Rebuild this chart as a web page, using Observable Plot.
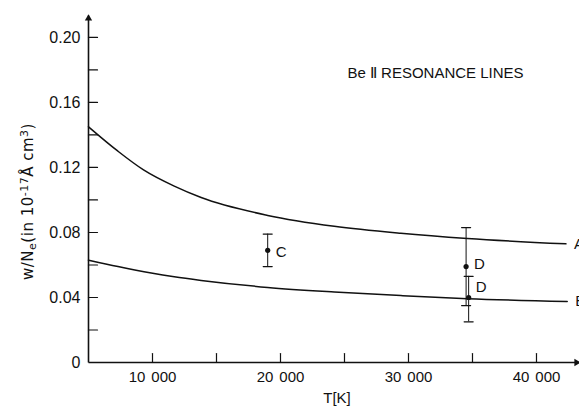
<!DOCTYPE html>
<html><head><meta charset="utf-8">
<script src="https://cdn.jsdelivr.net/npm/d3@7"></script>
<script src="https://cdn.jsdelivr.net/npm/@observablehq/plot@0.6"></script>
<style>body{margin:0;background:#fff} svg{display:block}</style>
</head><body><div id="chart"></div>
<script>
// ---- data ----
const curveTA = [5000, 7300, 9300, 11700, 13800, 19000, 24200, 29400, 34600, 42300];
const seriesA = [0.145, 0.130, 0.1185, 0.1085, 0.1015, 0.0905, 0.0838, 0.0795, 0.0763, 0.073];
const curveTB = [5000, 7300, 9900, 11700, 13800, 19000, 24200, 29400, 34600, 42400];
const seriesB = [0.063, 0.0590, 0.0550, 0.0527, 0.0505, 0.0462, 0.0434, 0.0412, 0.0393, 0.0375];
const seriesNames = ["A", "B"];
const pointNames = ["C", "D", "D"];
const pointT = [19000, 34500, 34700];
const pointW = [0.069, 0.059, 0.040];
const pointLo = [0.059, 0.035, 0.025];
const pointHi = [0.079, 0.083, 0.053];
const yMajorTicks = [0, 0.04, 0.08, 0.12, 0.16, 0.20];
const yMinorTicks = [0.02, 0.04, 0.06, 0.08, 0.10, 0.12, 0.14, 0.16, 0.18, 0.20];
const xTicks = [10000, 15000, 20000, 25000, 30000, 35000, 40000];
const xTickLabels = [10000, 20000, 30000, 40000];
const xDomain = [5000, 43360];
const yDomain = [0, 0.2135];
const titleText = "Be \u2161 RESONANCE LINES";
const xLabel = "T[K]";
const yLabelParts = [["w/N",""],["e","sub"],["(in 10",""],["-17","sup"],["\u00C5 cm",""],["3","sup"],[")",""]];
const yLabelPlain = yLabelParts.map(p => p[0]).join("");

// ---- tables built from the arrays ----
const lineA = curveTA.map((t, i) => ({T: t, w: seriesA[i]}));
const lineB = curveTB.map((t, i) => ({T: t, w: seriesB[i]}));
const ends = [lineA[lineA.length - 1], lineB[lineB.length - 1]].map((d, i) => ({...d, name: seriesNames[i]}));
const pts = pointNames.map((n, i) => ({name: n, T: pointT[i], w: pointW[i], lo: pointLo[i], hi: pointHi[i]}));
const caps = pts.flatMap(d => [{T: d.T, w: d.lo}, {T: d.T, w: d.hi}]);

const lineShape = {draw(ctx, l) { ctx.moveTo(0, 0); ctx.lineTo(0, -l); }};
const fmtX = d => d3.format(",")(d).replace(",", "\u2009\u2009");
const fmtY = d => d === 0 ? "0" : d3.format(".2f")(d);
const ink = "#111";

const chart = Plot.plot({
  width: 579, height: 407,
  marginLeft: 88, marginRight: 0, marginTop: 15, marginBottom: 45,
  style: {fontFamily: "'Liberation Sans', Arial, sans-serif", fontSize: "15px", background: "#fff", color: ink},
  x: {domain: xDomain},
  y: {domain: yDomain},
  marks: [
    // axis lines
    Plot.link([0], {x1: xDomain[0], x2: xDomain[0], y1: yDomain[0], y2: yDomain[1], stroke: ink, strokeWidth: 1.6}),
    Plot.link([0], {x1: xDomain[0], x2: xDomain[1], y1: yDomain[0], y2: yDomain[0], stroke: ink, strokeWidth: 1.6}),
    Plot.dot([0], {x: xDomain[0], y: yDomain[1], symbol: "triangle2", r: 3.5, fill: ink, dy: 3}),
    Plot.dot([0], {x: xDomain[1], y: yDomain[0], symbol: "triangle2", r: 3.5, fill: ink, rotate: 90, dx: -3}),
    // ticks pointing inward
    Plot.vector(yMinorTicks, {y: d => d, frameAnchor: "left", rotate: 90, length: 9, anchor: "start", shape: lineShape, stroke: ink, strokeWidth: 1.2}),
    Plot.vector(xTicks, {x: d => d, frameAnchor: "bottom", rotate: 0, length: 9, anchor: "start", shape: lineShape, stroke: ink, strokeWidth: 1.2}),
    Plot.axisY({ticks: yMajorTicks, tickSize: 0, tickPadding: 8, tickFormat: fmtY, fontSize: 16, label: null}),
    Plot.axisX({ticks: xTickLabels, tickSize: 0, tickPadding: 9, tickFormat: fmtX, fontSize: 15, label: null}),
    // curves
    Plot.line(lineA, {x: "T", y: "w", curve: "monotone-x", stroke: ink, strokeWidth: 1.5}),
    Plot.line(lineB, {x: "T", y: "w", curve: "monotone-x", stroke: ink, strokeWidth: 1.5}),
    Plot.text(ends, {x: "T", y: "w", text: "name", textAnchor: "start", dx: 8, fontSize: 15, fill: ink}),
    // error bars
    Plot.ruleX(pts, {x: "T", y1: "lo", y2: "hi", stroke: ink, strokeWidth: 1}),
    Plot.vector(caps, {x: "T", y: "w", rotate: 90, length: 9, anchor: "middle", shape: lineShape, stroke: ink, strokeWidth: 1.2}),
    Plot.dot(pts, {x: "T", y: "w", r: 2.6, fill: ink}),
    Plot.text(pts, {filter: (d, i) => i === 0, x: "T", y: "w", text: "name", textAnchor: "start", dx: 8, dy: 1.5, fontSize: 15, fill: ink}),
    Plot.text(pts, {filter: (d, i) => i === 1, x: "T", y: "w", text: "name", textAnchor: "start", dx: 8, dy: -2, fontSize: 15, fill: ink}),
    Plot.text(pts, {filter: (d, i) => i === 2, x: "T", y: "w", text: "name", textAnchor: "start", dx: 7, dy: -10, fontSize: 15, fill: ink}),
    // titles
    Plot.text([titleText], {frameAnchor: "top-left", dx: 347, dy: 58, textAnchor: "middle", lineAnchor: "middle", fontSize: 15, fill: ink}),
    Plot.text([xLabel], {frameAnchor: "bottom", dx: 3, dy: 36, textAnchor: "middle", lineAnchor: "middle", fontSize: 15, fill: ink}),
    Plot.text([yLabelPlain], {frameAnchor: "left", dx: -60, dy: 12.5, rotate: -90, textAnchor: "middle", lineAnchor: "middle", fontSize: 15, fontFamily: "'DejaVu Sans', sans-serif", fill: ink})
  ]
});
document.getElementById("chart").appendChild(chart);

// rich text for the y label (sub/superscripts)
d3.select(chart).selectAll("text").filter(function() { return this.textContent === yLabelPlain; }).each(function() {
  const t = d3.select(this);
  t.text(null).attr("letter-spacing", "0.5px");
  for (const [s, kind] of yLabelParts) {
    const ts = t.append("tspan").text(s);
    if (kind === "sub") ts.attr("baseline-shift", "-25%").attr("font-size", "11px");
    if (kind === "sup") ts.attr("baseline-shift", "45%").attr("font-size", "11px");
  }
});
</script>
</body></html>
